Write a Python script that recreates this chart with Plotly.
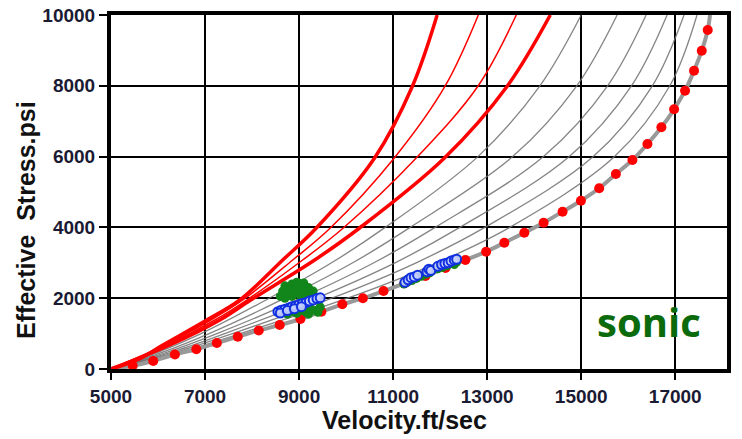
import plotly.graph_objects as go

# ---------------- data ----------------
# normal compaction trend (red dots on grey line)
normal_v = [5461, 5898, 6359, 6815, 7251, 7696, 8142, 8588, 9028, 9473, 9919, 10357,
            10796, 11242, 11688, 12113, 12537, 12977, 13365, 13790, 14200, 14603,
            14994, 15382, 15737, 16089, 16408, 16705, 16975, 17208, 17399, 17563, 17690]
normal_s = [93, 226, 410, 559, 734, 912, 1088, 1243, 1412, 1619, 1828, 1997,
            2203, 2421, 2627, 2853, 3079, 3314, 3568, 3850, 4133, 4444,
            4754, 5105, 5508, 5904, 6356, 6828, 7336, 7862, 8427, 8992, 9576]
normal_line_v = [5000] + normal_v + [17739]
normal_line_s = [0] + normal_s + [10000]

# red curves (thick, thin, thin, thick)
red1_v = [5000, 5552, 6104, 7038, 7739, 8652, 9367, 10605, 11412, 11936]
red1_s = [0, 254, 678, 1384, 1949, 3079, 3983, 5961, 7995, 10000]
red2_v = [5000, 6147, 7123, 7802, 8864, 9664, 11024, 12107, 12812]
red2_s = [0, 678, 1384, 1949, 3079, 3983, 5961, 7995, 10000]
red3_v = [5000, 6189, 7208, 7887, 9076, 9940, 11491, 12806, 13619]
red3_s = [0, 678, 1384, 1949, 3079, 3983, 5961, 7995, 10000]
red4_v = [5000, 6253, 7314, 7972, 9331, 10286, 12091, 13429, 14342]
red4_s = [0, 678, 1384, 1949, 3079, 3983, 5961, 7995, 10000]

# grey curves between the red curves and the normal trend
grey_s = [0, 500, 1000, 2000, 3000, 4000, 6000, 8000, 10000]
grey1_v = [5000, 6049, 6917, 8364, 9690, 10831, 12803, 14122, 15000]
grey2_v = [5000, 6147, 7085, 8698, 10141, 11361, 13542, 14906, 15764]
grey3_v = [5000, 6246, 7252, 9032, 10591, 11892, 14197, 15561, 16380]
grey4_v = [5000, 6344, 7418, 9363, 11039, 12418, 14746, 16069, 16826]
grey5_v = [5000, 6443, 7585, 9697, 11489, 12949, 15255, 16513, 17186]
grey6_v = [5000, 6541, 7753, 10031, 11940, 13479, 15708, 16884, 17462]

# measured points: green (filled) and blue (open)
green_v = [8600, 8650, 8700, 8750, 8800, 8850, 8900, 8950, 9000, 9050, 9100, 9150,
           9200, 9250, 9300, 8700, 8850, 9000, 9150, 8950, 9100,
           8650, 8750, 8850, 8950, 9050, 9150, 9250, 9350, 9450, 9400, 8800, 9000, 9200,
           11230, 11300, 11400, 11500, 11600, 11700, 11780, 11950, 12050, 12150, 12250, 12300, 12350]
green_s = [2050, 2200, 2350, 2100, 2250, 2400, 2150, 2300, 2420, 2200, 2350, 2150,
           2300, 2100, 2200, 2000, 2050, 2100, 2000, 2450, 2430,
           1600, 1550, 1620, 1570, 1650, 1600, 1700, 1650, 1750, 1600, 1700, 1700, 1550,
           2400, 2450, 2500, 2560, 2620, 2680, 2720, 2830, 2870, 2920, 2980, 2950, 3020]
blue_v = [8550, 8620, 8700, 8780, 8850, 8920, 9000, 9070, 9150, 9220, 9300, 9380, 9450,
          8600, 8750, 8900, 9050,
          11250, 11320, 11380, 11450, 11520, 11720, 11760, 11800, 11950, 12030, 12100,
          12170, 12230, 12300, 12350]
blue_s = [1620, 1660, 1690, 1720, 1760, 1780, 1820, 1850, 1880, 1920, 1950, 1990, 2010,
          1580, 1650, 1700, 1760,
          2450, 2520, 2580, 2600, 2650, 2750, 2820, 2780, 2900, 2950, 2980,
          3000, 3050, 3080, 3100]

x_ticks = [5000, 7000, 9000, 11000, 13000, 15000, 17000]
y_ticks = [0, 2000, 4000, 6000, 8000, 10000]

# ---------------- figure ----------------
fig = go.Figure()

for gv in [grey1_v, grey2_v, grey3_v, grey4_v, grey5_v, grey6_v]:
    fig.add_trace(go.Scatter(x=gv, y=grey_s, mode="lines",
                             line=dict(color="rgba(110,110,110,0.85)", width=1.3, shape="spline"),
                             hoverinfo="skip"))

fig.add_trace(go.Scatter(x=normal_line_v, y=normal_line_s, mode="lines",
                         line=dict(color="#999999", width=4, shape="spline")))

red_specs = [(red1_v, red1_s, 3.5), (red2_v, red2_s, 1.5), (red3_v, red3_s, 1.5), (red4_v, red4_s, 3.5)]
for rv, rs, w in red_specs:
    fig.add_trace(go.Scatter(x=rv, y=rs, mode="lines",
                             line=dict(color="#ff0000", width=w, shape="spline")))

fig.add_trace(go.Scatter(x=normal_v, y=normal_s, mode="markers",
                         marker=dict(color="#ff0000", size=10, line=dict(width=0))))

fig.add_trace(go.Scatter(x=green_v, y=green_s, mode="markers",
                         marker=dict(color="#12861a", size=9, line=dict(width=0))))
fig.add_trace(go.Scatter(x=blue_v, y=blue_s, mode="markers",
                         marker=dict(color="rgba(200,210,255,0.9)", size=9,
                                     line=dict(color="#1030e0", width=2))))

tick_font = dict(family="Liberation Sans, Arial", size=19, color="#1a1a33", weight="bold")

fig.update_layout(
    width=742, height=439,
    margin=dict(l=111, r=15, t=15, b=70, autoexpand=False),
    paper_bgcolor="white", plot_bgcolor="white",
    showlegend=False,
    xaxis=dict(range=[5000, 18100], tickvals=x_ticks, ticktext=[str(v) for v in x_ticks],
               showgrid=True, gridcolor="black", gridwidth=2, zeroline=False,
               showline=True, linecolor="black", linewidth=4, mirror=True,
               ticks="outside", ticklen=7, tickwidth=2, tickcolor="black",
               tickfont=tick_font, automargin=False),
    yaxis=dict(range=[0, 10000], tickvals=y_ticks, ticktext=[str(v) for v in y_ticks],
               showgrid=True, gridcolor="black", gridwidth=2, zeroline=False,
               showline=True, linecolor="black", linewidth=4, mirror=True,
               ticks="outside", ticklen=8, tickwidth=2, tickcolor="black",
               tickfont=tick_font, automargin=False),
    annotations=[
        dict(text="Velocity.ft/sec", xref="paper", yref="paper", x=0.476, y=-0.145,
             xanchor="center", yanchor="middle", showarrow=False,
             font=dict(family="Liberation Sans, Arial", size=25, color="#111111", weight="bold")),
        dict(text="Effective  Stress.psi", xref="paper", yref="paper", x=-0.137, y=0.42,
             xanchor="center", yanchor="middle", showarrow=False, textangle=-90,
             font=dict(family="Liberation Sans, Arial", size=25, color="#111111", weight="bold")),
        dict(text="sonic", x=16450, y=1330, xanchor="center", yanchor="middle", showarrow=False,
             font=dict(family="Open Sans", size=40, color="#0b6a0b", weight="bold")),
    ],
)

fig.write_html("out.html", config={"displayModeBar": False},
               post_script="document.body.style.margin='0';")
